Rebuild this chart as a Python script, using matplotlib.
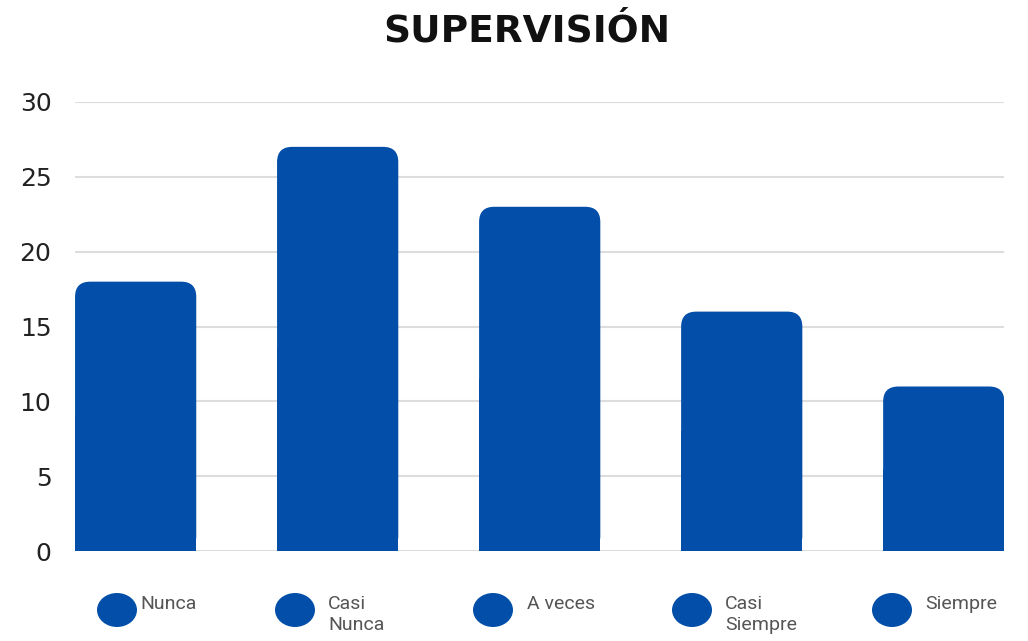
import numpy as np
import matplotlib.pyplot as plt
from matplotlib.patches import FancyBboxPatch, Ellipse

# datos
categorias = ['Nunca', 'Casi\nNunca', 'A veces', 'Casi\nSiempre', 'Siempre']
valores = [18, 27, 23, 16, 11]
yticks = [0, 5, 10, 15, 20, 25, 30]

azul = '#034ea8'

fig = plt.figure(figsize=(10.28, 6.41), dpi=100)
ax = fig.add_axes([0.073, 0.140, 0.904, 0.701])

ancho = 0.6
x = np.arange(len(valores))
ax.set_xlim(-0.3, len(valores) - 1 + 0.3)
ax.set_ylim(0, 30)

# px por unidad, para que las esquinas redondeadas sean circulares
px_x = 0.904 * 1028 / (len(valores) - 1 + 0.6)
px_y = 0.701 * 641 / 30
r = 0.075
aspecto = px_x / px_y

for xi, v in zip(x, valores):
    p = FancyBboxPatch((xi - ancho / 2, 0), ancho, v,
                       boxstyle='round,pad=0,rounding_size=%f' % r,
                       mutation_aspect=aspecto, fc=azul, ec='none', zorder=3)
    ax.add_patch(p)
# parte de abajo recta
ax.bar(x, [v / 2 for v in valores], width=ancho, color=azul, zorder=3)

ax.set_yticks(yticks)
ax.set_yticklabels([str(t) for t in yticks], fontsize=18, color='#222222')
ax.set_xticks([])
ax.tick_params(axis='y', length=0, pad=17)
ax.grid(axis='y', color='#dddddd', lw=1.5, zorder=0)
for s in ax.spines.values():
    s.set_visible(False)

fig.text(0.512, 0.951, 'SUPERVISIÓN', ha='center', va='center',
         fontsize=27, fontweight='heavy', color='#111111')

# leyenda
circ_x = [117, 295, 493, 692, 892]
txt_x = [140, 328, 527, 725, 925]
for cx, tx, lab in zip(circ_x, txt_x, categorias):
    e = Ellipse((cx / 1028, 1 - 610 / 641), 40 / 1028, 34 / 641,
                transform=fig.transFigure, fc=azul, ec='none')
    fig.add_artist(e)
    fig.text(tx / 1028, 1 - 595 / 641, lab, ha='left', va='top',
             fontsize=14, color='#555555', family='Roboto', linespacing=1.25)

fig.savefig('out.png', dpi=100)
